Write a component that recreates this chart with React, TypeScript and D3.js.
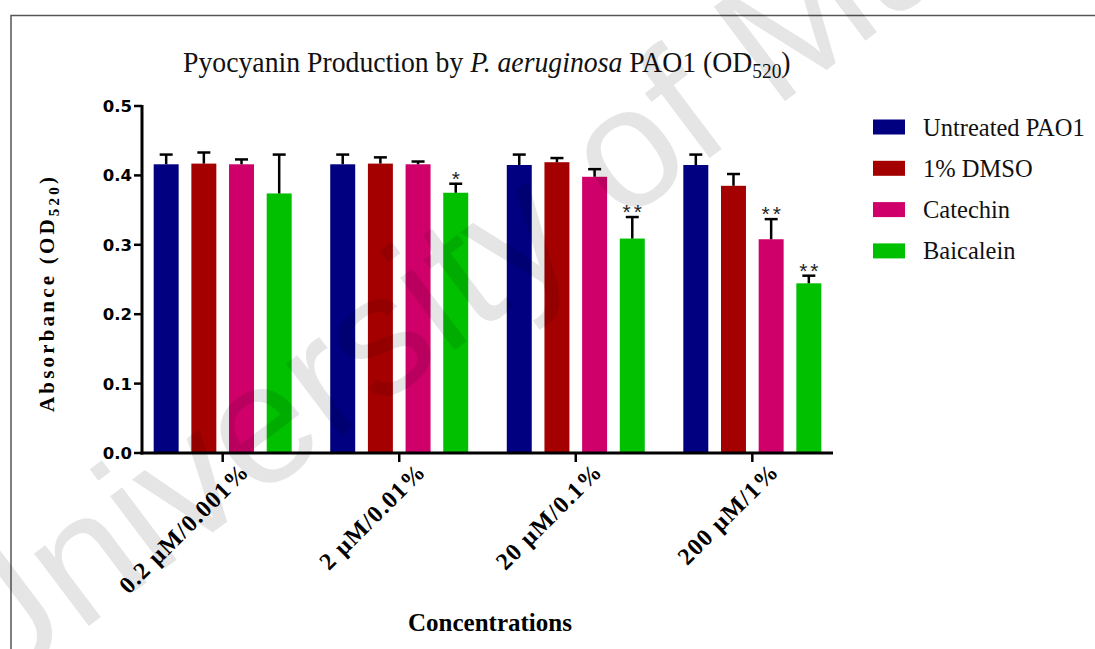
import React from "react";
import * as d3 from "d3";

const categories = ["0.2 μM/0.001%", "2 μM/0.01%", "20 μM/0.1%", "200 μM/1%"];
const seriesNames = ["Untreated PAO1", "1% DMSO", "Catechin", "Baicalein"];
const seriesColors = ["#000080", "#a50000", "#cf006a", "#00c000"];

const untreated = [0.416, 0.416, 0.415, 0.415];
const untreatedErr = [0.014, 0.014, 0.015, 0.015];
const dmso = [0.417, 0.417, 0.419, 0.385];
const dmsoErr = [0.016, 0.009, 0.006, 0.017];
const catechin = [0.416, 0.416, 0.398, 0.308];
const catechinErr = [0.007, 0.004, 0.011, 0.029];
const baicalein = [0.374, 0.375, 0.309, 0.2445];
const baicaleinErr = [0.056, 0.013, 0.031, 0.011];

const untreatedSig = ["", "", "", ""];
const dmsoSig = ["", "", "", ""];
const catechinSig = ["", "", "", "**"];
const baicaleinSig = ["", "*", "**", "**"];

const yTicks = [0, 0.1, 0.2, 0.3, 0.4, 0.5];

const seriesValues = [untreated, dmso, catechin, baicalein];
const seriesErrors = [untreatedErr, dmsoErr, catechinErr, baicaleinErr];
const seriesSig = [untreatedSig, dmsoSig, catechinSig, baicaleinSig];

export default function App() {
  const W = 1095;
  const H = 649;
  const x0 = 142;
  const x1 = 833;
  const yBase = 453;
  const yTop = 106;

  const y = d3.scaleLinear().domain([0, 0.5]).range([yBase, yTop]);
  const xg = d3.scalePoint<string>().domain(categories).range([x0, x1]).padding(0.457);
  const xs = d3.scaleBand<string>().domain(seriesNames).range([-69, 69]).paddingInner(0.337).paddingOuter(0);
  const bw = xs.bandwidth();

  const serif = "'Liberation Serif', 'Times New Roman', serif";
  const sans = "'Liberation Sans', Arial, sans-serif";

  return (
    <div style={{ position: "fixed", left: 0, top: 0, width: W, height: H, background: "#fff" }}>
      <svg width={W} height={H} viewBox={`0 0 ${W} ${H}`} style={{ display: "block" }}>
        <rect x={0} y={0} width={W} height={H} fill="#fff" />
        {/* frame */}
        <path d={`M11,${H + 5} L11,15.5 L${W + 5},15.5`} fill="none" stroke="#555" strokeWidth={1.5} />

        {/* title */}
        <text transform="translate(183,72) scale(0.925,1)" fontFamily={serif} fontSize={30} fill="#111">
          Pyocyanin Production by <tspan fontStyle="italic">P. aeruginosa</tspan> PAO1 (OD
          <tspan fontSize={21} dy={6}>520</tspan>
          <tspan dy={-6}>)</tspan>
        </text>

        {/* bars */}
        {categories.map((c, ci) => (
          <g key={c} transform={`translate(${xg(c)},0)`}>
            {seriesNames.map((s, si) => {
              const v = seriesValues[si][ci];
              const e = seriesErrors[si][ci];
              const bx = (xs(s) as number);
              const cx = bx + bw / 2;
              const sig = seriesSig[si][ci];
              return (
                <g key={s}>
                  <rect x={bx} y={y(v)} width={bw} height={yBase - y(v)} fill={seriesColors[si]} />
                  <line x1={cx} x2={cx} y1={y(v)} y2={y(v + e)} stroke="#000" strokeWidth={2.5} />
                  <line x1={cx - 6.5} x2={cx + 6.5} y1={y(v + e)} y2={y(v + e)} stroke="#000" strokeWidth={2.5} />
                  {sig && (
                    <text x={cx + (sig.length > 1 ? 1.5 : 0)} y={y(v + e) + 2} textAnchor="middle" fontFamily={sans} fontSize={21} letterSpacing={sig.length > 1 ? 3 : 0} fill="#222">
                      {sig}
                    </text>
                  )}
                </g>
              );
            })}
          </g>
        ))}

        {/* y axis */}
        <line x1={x0} x2={x0} y1={yTop - 1} y2={yBase + 1.5} stroke="#000" strokeWidth={3} />
        {yTicks.map((t) => (
          <g key={t}>
            <line x1={x0 - 8} x2={x0} y1={y(t)} y2={y(t)} stroke="#000" strokeWidth={2.5} />
            <text x={x0 - 10} y={y(t) + 6} textAnchor="end" fontFamily="'DejaVu Sans', sans-serif" fontWeight="bold" fontSize={16.5} fill="#000">
              {d3.format(".1f")(t)}
            </text>
          </g>
        ))}

        {/* x axis */}
        <line x1={x0 - 1.5} x2={x1} y1={yBase} y2={yBase} stroke="#000" strokeWidth={3} />
        {categories.map((c) => {
          const cx = xg(c) as number;
          return (
            <g key={c}>
              <line x1={cx} x2={cx} y1={yBase} y2={yBase + 9} stroke="#000" strokeWidth={2.5} />
              <text
                transform={`translate(${cx + 28},${yBase + 20}) rotate(-45)`}
                textAnchor="end"
                fontFamily={serif}
                fontWeight="bold"
                fontSize={24}
                letterSpacing={1.2}
                fill="#000"
              >
                {c}
              </text>
            </g>
          );
        })}

        {/* axis titles */}
        <text transform="translate(54,293) rotate(-90)" textAnchor="middle" fontFamily={serif} fontWeight="bold" fontSize={21} letterSpacing={3.2} fill="#000">
          Absorbance (OD<tspan fontSize={15} dy={5}>520</tspan><tspan dy={-5}>)</tspan>
        </text>
        <text x={490} y={631} textAnchor="middle" fontFamily={serif} fontWeight="bold" fontSize={25} fill="#000">
          Concentrations
        </text>

        {/* legend */}
        {seriesNames.map((s, i) => {
          const cy = 127 + i * 41.3;
          return (
            <g key={s}>
              <rect x={873} y={cy - 7.5} width={32} height={15} fill={seriesColors[i]} />
              <text x={923} y={cy + 8.5} fontFamily={serif} fontSize={24.5} fill="#111">
                {s}
              </text>
            </g>
          );
        })}

        {/* watermark */}
        <text
          transform="translate(-20,708) rotate(-37)"
          fontFamily={sans}
          fontSize={172}
          fill="#000"
          fillOpacity={0.1}
        >
          University of Malaya
        </text>
      </svg>
    </div>
  );
}
